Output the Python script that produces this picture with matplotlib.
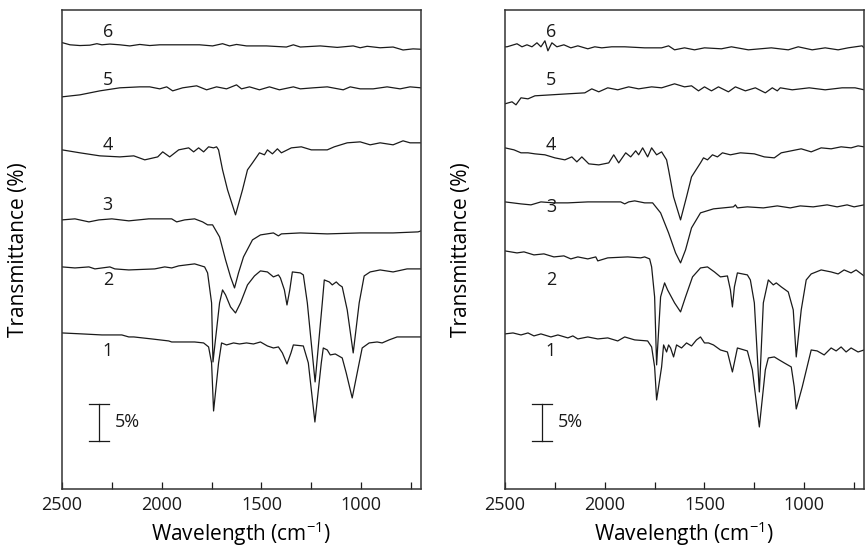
import matplotlib
matplotlib.use("Agg")
import matplotlib.pyplot as plt
import numpy as np

plt.rcParams["font.family"] = ["Open Sans", "DejaVu Sans"]
plt.rcParams["mathtext.fontset"] = "custom"
plt.rcParams["mathtext.rm"] = "Open Sans"

# spectra: (wavenumber cm-1, stacked transmittance %)
left_6 = [(2500, 60.3), (2460, 60.0), (2410, 59.9), (2360, 59.95), (2325, 60.15), (2300, 60.0),
          (2260, 60.1), (2210, 60.0), (2160, 59.85), (2110, 60.05), (2060, 59.9), (2010, 60.0),
          (1910, 60.0), (1810, 60.0), (1745, 59.85), (1695, 60.15), (1660, 59.85), (1625, 60.05),
          (1575, 59.85), (1475, 59.85), (1375, 59.7), (1340, 60.0), (1305, 59.7), (1205, 59.85),
          (1120, 59.65), (1040, 59.85), (1005, 59.6), (970, 59.8), (905, 59.6), (840, 59.7),
          (790, 59.3), (740, 59.45), (700, 59.4)]
left_5 = [(2500, 52.97), (2410, 53.24), (2310, 53.78), (2210, 54.19), (2110, 54.32), (2060, 54.32),
          (2010, 54.05), (1975, 54.32), (1945, 53.78), (1895, 54.19), (1825, 54.46), (1775, 53.92),
          (1725, 54.32), (1675, 54.05), (1625, 54.59), (1600, 54.05), (1560, 54.32), (1510, 53.92),
          (1460, 54.32), (1410, 53.92), (1340, 54.32), (1305, 54.05), (1240, 54.19), (1170, 54.32),
          (1090, 53.92), (1055, 54.32), (1005, 54.05), (940, 54.05), (870, 54.32), (805, 54.05),
          (755, 54.32), (700, 54.19)]
left_4 = [(2500, 45.81), (2410, 45.41), (2310, 45.0), (2210, 44.86), (2140, 45.0), (2085, 44.46),
          (2020, 44.86), (1995, 45.54), (1960, 44.86), (1915, 45.81), (1865, 46.08), (1840, 45.54),
          (1815, 46.08), (1790, 45.54), (1765, 46.22), (1740, 46.08), (1725, 46.22), (1715, 45.81),
          (1695, 43.11), (1670, 40.41), (1630, 37.03), (1595, 40.41), (1570, 43.11), (1545, 44.05),
          (1510, 45.41), (1485, 45.14), (1470, 45.81), (1445, 45.27), (1420, 45.95), (1400, 45.41),
          (1350, 46.08), (1300, 46.22), (1250, 45.81), (1170, 45.81), (1135, 46.22), (1070, 46.76),
          (1005, 46.89), (955, 46.49), (905, 46.76), (840, 46.49), (790, 47.03), (755, 46.76),
          (700, 46.76)]
left_3 = [(2500, 36.35), (2435, 36.49), (2365, 36.08), (2315, 36.35), (2250, 36.49), (2165, 36.22),
          (2065, 36.49), (1950, 36.49), (1925, 36.08), (1885, 36.35), (1835, 36.49), (1795, 36.08),
          (1770, 35.68), (1745, 35.68), (1710, 34.05), (1680, 30.95), (1655, 28.65), (1635, 27.16),
          (1615, 29.19), (1590, 31.35), (1545, 33.65), (1505, 34.32), (1440, 34.59), (1415, 34.19),
          (1400, 34.46), (1305, 34.59), (1170, 34.46), (1005, 34.59), (840, 34.59), (715, 34.73),
          (700, 34.86)]
left_2 = [(2500, 30.0), (2435, 29.86), (2365, 30.0), (2335, 29.73), (2260, 30.0), (2235, 29.73),
          (2165, 29.59), (2035, 29.73), (1985, 30.0), (1950, 29.86), (1915, 30.14), (1835, 30.41),
          (1785, 30.0), (1770, 29.19), (1750, 25.14), (1743, 17.16), (1710, 25.14), (1695, 26.89),
          (1680, 26.22), (1655, 24.59), (1630, 23.78), (1605, 25.14), (1570, 27.57), (1535, 28.78),
          (1505, 29.46), (1470, 29.32), (1440, 28.65), (1415, 28.92), (1405, 28.51), (1385, 26.89),
          (1372, 24.86), (1358, 26.89), (1345, 29.32), (1305, 29.19), (1290, 28.92), (1270, 25.14),
          (1231, 14.46), (1195, 25.14), (1185, 28.24), (1160, 27.97), (1145, 27.57), (1125, 27.97),
          (1110, 27.57), (1095, 27.30), (1070, 24.19), (1040, 18.38), (1010, 25.14), (985, 28.78),
          (955, 29.32), (905, 29.59), (840, 29.32), (770, 29.73), (700, 29.73)]
left_1 = [(2500, 21.08), (2400, 20.95), (2300, 20.81), (2200, 20.81), (2165, 20.54), (2140, 20.54),
          (2050, 20.27), (1965, 20.0), (1950, 19.86), (1835, 19.86), (1790, 19.73), (1765, 19.19),
          (1750, 17.03), (1740, 10.54), (1715, 17.03), (1700, 19.73), (1675, 19.46), (1640, 19.73),
          (1610, 19.59), (1575, 19.73), (1540, 19.59), (1505, 19.86), (1470, 19.32), (1440, 19.05),
          (1415, 19.19), (1395, 18.38), (1372, 16.89), (1352, 18.38), (1340, 19.46), (1290, 19.32),
          (1265, 17.03), (1232, 9.05), (1200, 17.03), (1190, 19.05), (1170, 18.78), (1155, 18.11),
          (1130, 18.24), (1095, 17.70), (1075, 15.68), (1045, 12.30), (1020, 15.68), (995, 19.05),
          (960, 19.73), (920, 19.86), (895, 19.73), (860, 20.14), (820, 20.54), (770, 20.54),
          (700, 20.54)]

right_6 = [(2500, 59.73), (2490, 59.73), (2440, 60.14), (2415, 59.73), (2390, 60.0), (2365, 59.73),
           (2340, 60.27), (2320, 59.73), (2300, 60.54), (2285, 59.19), (2265, 60.27), (2240, 59.73),
           (2205, 60.0), (2170, 59.59), (2135, 59.86), (2085, 59.46), (2050, 59.73), (2015, 59.59),
           (1965, 59.73), (1900, 59.73), (1800, 59.59), (1715, 59.59), (1680, 59.86), (1650, 59.32),
           (1600, 59.59), (1550, 59.32), (1500, 59.59), (1415, 59.46), (1365, 59.73), (1280, 59.32),
           (1165, 59.59), (1080, 59.32), (1030, 59.73), (960, 59.32), (895, 59.59), (830, 59.32),
           (780, 59.59), (710, 59.86), (700, 59.59)]
right_5 = [(2500, 52.03), (2465, 52.30), (2445, 51.89), (2420, 52.84), (2385, 52.70), (2350, 53.11),
           (2270, 53.24), (2185, 53.38), (2100, 53.51), (2065, 54.05), (2030, 53.65), (1985, 54.19),
           (1935, 53.92), (1880, 54.32), (1830, 54.05), (1765, 54.32), (1715, 54.19), (1650, 54.73),
           (1600, 54.32), (1565, 54.46), (1530, 53.78), (1500, 54.32), (1465, 53.78), (1430, 54.32),
           (1380, 53.65), (1345, 54.32), (1295, 53.78), (1245, 54.19), (1195, 53.51), (1160, 54.19),
           (1135, 53.78), (1120, 54.19), (1060, 53.92), (975, 54.19), (895, 53.92), (810, 54.19),
           (745, 54.19), (700, 53.92)]
right_4 = [(2500, 46.08), (2455, 45.81), (2420, 45.41), (2385, 45.41), (2350, 45.27), (2300, 45.14),
           (2250, 44.73), (2200, 44.46), (2165, 44.86), (2140, 44.19), (2115, 44.86), (2080, 43.92),
           (2030, 43.78), (1980, 44.05), (1955, 45.14), (1930, 44.05), (1895, 45.41), (1870, 44.86),
           (1845, 45.68), (1830, 45.14), (1810, 46.08), (1785, 44.86), (1765, 46.08), (1740, 45.14),
           (1715, 45.54), (1690, 44.46), (1680, 43.11), (1655, 39.46), (1620, 36.35), (1590, 39.46),
           (1565, 42.16), (1520, 44.05), (1505, 44.73), (1485, 44.46), (1460, 45.14), (1435, 44.86),
           (1410, 45.41), (1370, 45.14), (1320, 45.41), (1250, 45.27), (1200, 44.86), (1150, 44.73),
           (1115, 45.41), (1065, 45.68), (1015, 45.95), (965, 45.54), (915, 46.08), (865, 45.95),
           (815, 46.22), (765, 46.08), (730, 46.35), (700, 46.22)]
right_3 = [(2500, 38.78), (2420, 38.51), (2370, 38.38), (2320, 38.78), (2255, 38.65), (2185, 38.65),
           (2085, 38.78), (1920, 38.78), (1900, 38.51), (1880, 38.78), (1850, 38.92), (1800, 38.65),
           (1760, 38.65), (1720, 37.30), (1680, 34.59), (1645, 31.89), (1620, 30.54), (1595, 32.30),
           (1565, 35.27), (1520, 37.30), (1455, 37.84), (1355, 38.11), (1345, 38.38), (1335, 37.97),
           (1285, 38.11), (1205, 37.97), (1135, 38.24), (1070, 37.97), (1020, 38.24), (955, 38.11),
           (885, 38.38), (835, 38.11), (785, 38.38), (750, 38.11), (700, 38.38)]
right_2 = [(2500, 32.16), (2440, 31.89), (2405, 32.03), (2355, 31.62), (2305, 31.76), (2255, 31.35),
           (2205, 31.49), (2170, 31.08), (2135, 31.35), (2085, 31.08), (2045, 31.35), (2035, 30.81),
           (1985, 31.22), (1885, 31.35), (1820, 31.22), (1800, 31.35), (1775, 31.08), (1765, 30.0),
           (1750, 25.95), (1740, 16.76), (1720, 25.95), (1700, 27.84), (1685, 26.89), (1650, 25.14),
           (1620, 23.92), (1595, 25.95), (1560, 28.65), (1520, 29.86), (1485, 30.0), (1450, 29.32),
           (1420, 28.65), (1385, 28.78), (1370, 26.89), (1360, 24.59), (1350, 27.30), (1335, 29.19),
           (1285, 28.92), (1270, 28.24), (1250, 25.14), (1225, 13.11), (1205, 25.14), (1180, 28.24),
           (1155, 27.57), (1140, 27.84), (1115, 27.30), (1080, 26.62), (1055, 24.19), (1040, 17.84),
           (1015, 24.19), (990, 28.24), (965, 29.05), (915, 29.59), (865, 29.32), (830, 29.05),
           (800, 29.59), (765, 29.19), (740, 29.59), (700, 28.78)]
right_1 = [(2500, 20.95), (2460, 21.08), (2420, 20.81), (2385, 21.08), (2355, 20.68), (2320, 20.95),
           (2270, 20.54), (2235, 20.81), (2185, 20.41), (2160, 20.68), (2135, 20.27), (2085, 20.54),
           (2035, 20.27), (1985, 20.41), (1935, 20.0), (1900, 20.54), (1850, 20.14), (1785, 20.0),
           (1765, 19.19), (1750, 16.49), (1740, 12.03), (1715, 16.49), (1705, 19.46), (1690, 18.51),
           (1680, 19.46), (1670, 19.05), (1655, 17.84), (1640, 19.46), (1615, 19.05), (1590, 19.73),
           (1565, 19.32), (1540, 20.14), (1520, 20.54), (1500, 19.73), (1480, 19.73), (1455, 19.46),
           (1420, 18.78), (1385, 18.51), (1360, 15.81), (1335, 19.05), (1285, 18.65), (1260, 16.08),
           (1225, 8.38), (1195, 16.08), (1180, 17.70), (1150, 17.84), (1125, 17.43), (1100, 17.03),
           (1065, 16.49), (1050, 13.78), (1040, 10.81), (1010, 13.78), (965, 18.78), (935, 18.65),
           (900, 18.11), (865, 19.05), (840, 18.65), (815, 19.19), (790, 18.51), (765, 19.05),
           (730, 18.51), (700, 18.78)]

left_spectra = [left_1, left_2, left_3, left_4, left_5, left_6]
right_spectra = [right_1, right_2, right_3, right_4, right_5, right_6]

curve_labels = ["1", "2", "3", "4", "5", "6"]
left_label_y = [18.65, 28.24, 38.38, 46.49, 55.27, 61.76]
right_label_y = [18.65, 28.24, 38.1, 46.49, 55.27, 61.76]

scale_bar_wn = 2314
scale_bar_bottom = 6.5
scale_bar_size = 5  # %

fig = plt.figure(figsize=(8.67, 5.5), dpi=100)
ax_left = fig.add_axes([0.0715, 0.1109, 0.4141, 0.8709])
ax_right = fig.add_axes([0.5825, 0.1109, 0.4141, 0.8709])

for ax, spectra, label_y in [(ax_left, left_spectra, left_label_y),
                             (ax_right, right_spectra, right_label_y)]:
    for spec in spectra:
        arr = np.array(spec)
        ax.plot(arr[:, 0], arr[:, 1], color="#1a1a1a", lw=0.9)

    for lab, ly in zip(curve_labels, label_y):
        ax.text(2270, ly, lab, fontsize=13, ha="center", va="center", color="#1a1a1a")

    # 5% scale bar
    top = scale_bar_bottom + scale_bar_size
    ax.plot([scale_bar_wn, scale_bar_wn], [scale_bar_bottom, top], color="#1a1a1a", lw=0.9)
    ax.plot([scale_bar_wn - 50, scale_bar_wn + 50], [top, top], color="#1a1a1a", lw=0.9)
    ax.plot([scale_bar_wn - 50, scale_bar_wn + 50], [scale_bar_bottom, scale_bar_bottom],
            color="#1a1a1a", lw=0.9)
    ax.text(scale_bar_wn - 80, scale_bar_bottom + scale_bar_size / 2, "5%", fontsize=13,
            ha="left", va="center", color="#1a1a1a")

    ax.set_xlim(2500, 700)
    ax.set_ylim(0, 64.7)
    ticks = np.arange(2500, 700, -250)
    ax.set_xticks(ticks)
    ax.set_xticklabels([str(t) if t % 500 == 0 else "" for t in ticks], fontsize=13)
    ax.set_yticks([])
    ax.tick_params(axis="x", direction="in", length=5, width=0.9, pad=5, colors="#1a1a1a")
    for sp in ax.spines.values():
        sp.set_linewidth(1.1)
        sp.set_color("#333333")
    ax.set_xlabel("Wavelength (cm$^{\\mathregular{-1}}$)", fontsize=15, labelpad=4)
    ax.set_ylabel("Transmittance (%)", fontsize=15, labelpad=24)

fig.savefig("out.png", dpi=100)
